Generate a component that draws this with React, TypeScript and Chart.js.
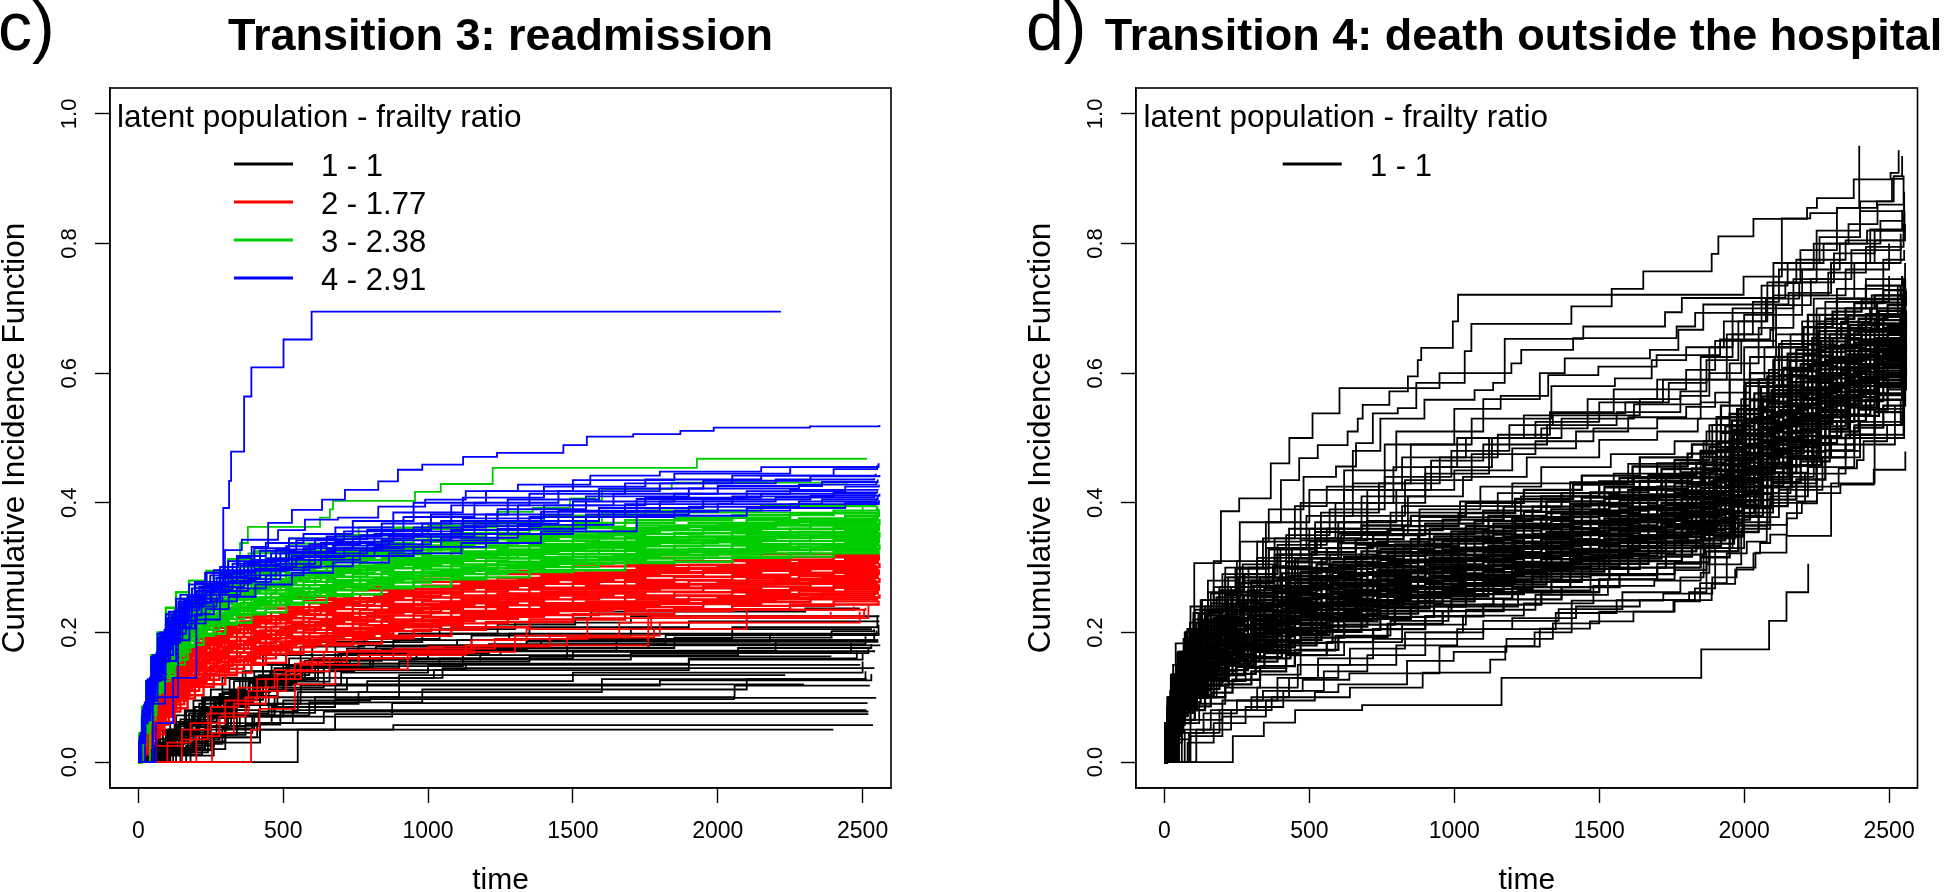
import { useEffect, useRef } from "react";
import { Chart, registerables } from "chart.js";
Chart.register(...registerables);

const FONT = '"Liberation Sans", Arial, sans-serif';
const xTickValues = [0, 500, 1000, 1500, 2000, 2500];
const yTickValues = [0, 0.2, 0.4, 0.6, 0.8, 1];
const legendHeading = "latent population - frailty ratio";
const legendC = ["1 - 1", "2 - 1.77", "3 - 2.38", "4 - 2.91"];
const legendD = ["1 - 1"];
const COLORS = { black: "#000000", red: "#ff0000", green: "#00cd00", blue: "#0000ff" };

// Event times for the tightly packed curves of panel c
const cGrids = [
[6,18,32,50,75,105,145,195,260,340,440,570,740,950,1200,1500,1850,2250,2555],
[9,22,40,62,90,125,170,225,300,390,510,650,840,1080,1350,1680,2050,2400,2550],
[4,14,27,44,66,95,130,175,235,310,400,520,680,880,1120,1400,1750,2150,2545],
[7,20,35,54,82,115,158,210,280,365,475,610,790,1010,1275,1590,1950,2320,2558],
[5,16,29,47,70,100,138,185,248,325,420,545,710,915,1160,1450,1800,2200,2540],
[8,24,37,58,86,120,164,218,290,378,490,630,815,1045,1310,1640,2000,2360,2552],
[3,13,30,52,78,110,152,202,270,352,458,590,765,980,1240,1545,1900,2280,2548],
[10,21,42,66,94,130,176,232,312,404,530,672,865,1115,1390,1720,2100,2440,2556],
];

// Cumulative incidence in thousandths, packed curves of panel c
const redBand = [
[3,12,22,38,58,78,98,116,134,150,167,180,191,204,216,228,236,243,249],
[6,17,28,43,62,83,103,120,138,153,170,183,195,208,220,233,241,248,253],
[5,20,32,46,66,86,106,124,141,156,174,186,198,211,224,236,244,251,256],
[8,19,35,50,70,89,110,127,144,160,177,189,202,214,227,239,247,254,259],
[7,24,36,52,72,93,112,130,148,162,180,192,205,218,230,242,250,257,262],
[9,23,38,55,74,95,116,134,150,166,183,195,208,221,233,245,253,260,265],
[10,26,41,58,78,99,119,136,154,169,186,199,211,224,236,248,256,263,268],
[9,28,43,60,81,102,122,140,157,172,188,201,214,227,239,251,259,266,272],
[12,27,45,64,84,105,125,143,160,175,191,204,217,230,242,254,262,269,275],
[11,30,48,66,87,108,128,146,163,178,194,207,220,233,245,257,265,272,278],
[13,31,50,69,89,111,131,149,166,181,197,210,223,236,248,260,268,275,281],
[12,33,52,72,92,114,134,152,169,184,200,213,226,239,251,263,271,278,284],
[14,35,54,75,95,117,137,154,172,187,203,216,229,242,254,266,274,281,287],
[13,36,57,77,98,120,140,157,175,190,206,219,232,245,257,269,277,284,289],
[16,38,59,80,101,122,143,160,178,193,209,221,235,248,260,272,280,287,292],
[15,40,61,83,104,125,146,163,181,196,211,224,238,251,263,275,283,290,295],
[17,41,64,86,107,128,149,166,184,199,214,227,241,254,266,278,286,292,298],
[18,43,66,88,110,131,152,169,187,202,216,230,244,257,269,281,289,295,301],
[17,45,68,91,113,134,154,172,190,205,219,233,247,260,272,284,292,298,304],
[19,47,71,94,116,137,157,175,193,208,222,236,250,263,275,287,295,301,307],
[20,48,73,97,119,140,160,178,196,211,225,239,253,266,278,290,298,304,310],
[21,50,75,100,122,143,163,181,199,214,228,242,256,269,281,293,301,307,313],
[20,52,78,103,125,146,166,184,202,217,231,245,259,272,284,296,304,310,316],
[23,53,80,106,127,149,169,187,205,220,234,248,262,275,287,299,307,313,319],
[22,55,82,109,130,152,172,190,207,223,237,250,265,278,290,302,310,316,322],
[24,54,85,112,133,155,175,192,210,225,239,252,267,280,292,304,312,318,325],
[25,56,86,115,135,158,178,195,213,228,242,255,270,283,295,307,315,321,328],
];
const greenBand = [
[20,45,70,105,130,155,178,195,212,228,243,256,268,282,293,307,315,322,328],
[22,48,73,108,133,158,181,198,215,231,246,259,271,285,296,309,317,324,331],
[21,50,75,110,135,162,184,201,218,234,249,262,274,287,299,312,320,327,334],
[24,52,78,113,138,165,187,204,221,237,252,265,277,290,301,314,322,329,336],
[23,54,80,116,141,168,190,207,224,240,254,267,280,292,304,317,325,331,338],
[26,56,83,118,144,171,193,210,227,242,257,270,282,295,306,319,327,334,341],
[25,58,86,121,147,174,196,213,230,245,260,273,285,297,309,321,329,336,343],
[28,60,89,124,150,177,199,216,233,248,262,275,288,300,311,324,332,339,346],
[27,62,91,127,153,180,202,219,235,251,265,278,290,302,314,326,334,341,348],
[30,63,94,129,156,183,205,222,238,254,268,281,293,305,316,328,336,343,351],
[29,66,97,132,159,186,208,225,241,257,271,284,296,307,319,331,339,346,353],
[32,68,100,135,162,190,211,228,244,260,273,286,299,310,321,333,341,348,355],
[31,70,103,138,165,193,214,231,247,262,276,289,301,312,323,335,343,350,358],
[34,72,106,141,168,196,217,234,250,265,279,292,304,315,326,338,346,353,360],
[33,74,108,144,171,199,220,237,253,268,282,295,307,318,328,340,348,355,362],
[36,76,111,147,174,202,223,240,256,271,285,297,310,320,331,343,351,358,365],
[35,78,113,150,177,205,226,243,259,274,288,300,312,323,333,345,353,360,367],
[38,80,116,153,180,208,229,246,262,277,291,303,315,325,336,347,355,362,370],
[37,82,118,156,183,212,232,249,265,280,294,306,318,328,338,350,358,365,372],
[40,84,121,158,186,215,235,252,268,283,297,309,321,331,341,352,360,367,375],
[39,85,123,160,189,218,238,255,271,286,300,312,324,334,344,355,363,370,378],
[42,83,125,162,191,222,242,259,274,290,303,315,327,337,347,358,366,373,381],
[41,85,122,164,193,225,245,262,277,293,306,318,330,340,350,361,369,376,384],
[44,84,125,165,195,228,248,265,280,297,310,322,334,344,354,365,373,380,388],
[43,85,124,163,197,231,252,269,284,301,314,326,338,348,358,369,377,384,391],
[45,85,125,165,198,234,256,273,288,305,318,330,343,353,363,373,381,388,395],
[45,85,125,165,200,238,262,280,295,313,325,337,350,360,370,380,388,395,400],
];
const blueBand = [
[40,85,128,165,200,232,258,278,296,318,338,352,372,400,418,435,445,455,461],
[45,92,130,168,204,233,255,275,293,312,333,348,368,396,414,430,442,452,456],
[38,80,125,162,198,228,252,274,292,310,330,345,362,385,408,425,436,442,445],
[42,88,120,158,195,225,250,270,290,308,328,344,358,382,405,422,434,441,443],
[36,78,118,155,192,222,248,268,288,306,326,342,356,378,400,418,430,436,438],
[40,84,124,160,196,226,250,268,286,304,322,338,352,372,396,414,426,432,436],
[32,72,110,148,186,218,244,264,284,303,322,336,350,368,390,410,422,428,433],
[35,75,115,152,188,220,244,262,280,298,318,334,348,364,386,406,418,425,428],
[30,66,102,142,180,212,238,258,278,296,314,330,345,362,382,402,414,420,420],
[34,70,108,146,182,214,240,258,276,295,312,327,342,358,378,398,410,416,418],
[31,62,95,132,170,205,232,254,272,292,310,324,340,356,376,396,408,414,416],
[33,68,100,136,174,208,234,252,270,288,306,322,336,352,372,392,405,411,414],
[30,60,90,128,162,196,224,246,266,284,302,316,330,348,368,388,402,408,412],
[31,64,96,130,165,198,226,248,264,282,300,318,332,346,366,386,398,405,410],
[30,61,92,126,158,190,218,240,258,278,296,312,326,342,360,382,394,402,408],
[32,65,94,127,156,188,214,236,255,274,292,308,322,338,356,380,392,400,404],
[30,60,90,125,155,185,206,228,248,268,288,302,318,332,352,378,388,398,402],
];

// Curves of panel c read one at a time: pairs of time, thousandths
const blueSingles = [
[23,90,92,184,144,245,196,276,230,292,299,327,357,343,448,369,530,389,634,405,713,420,828,433,896,451,980,459,1121,471,1238,477,1467,489,1548,502,1708,506,1871,511,1986,516,2318,518,2558,520],
[60,60,120,130,200,220,282,270,293,392,313,434,320,479,365,564,390,609,501,652,598,695,2218,695],
[50,100,137,208,184,245,253,270,282,301,344,315,391,332,448,343,482,358,575,374,689,377,828,394,990,405,1130,418,1310,428,1560,442,1800,448,2150,455,2550,458],
];
const greenSingles = [
[11,70,40,127,81,168,137,200,227,262,322,292,351,338,378,363,627,377,661,390,672,403,955,417,1044,429,1223,454,1928,468,2515,468],
[20,65,60,125,110,170,180,225,300,290,380,322,520,345,760,362,1238,386,1362,392,1490,407,1577,404,1600,421,1841,431,2450,431],
[40,110,80,150,160,200,230,267,325,294,520,320,1000,365,1600,385,2500,395],
];
const redSingles = [
[254,45,330,90,440,128,560,150,760,165,1130,180,1760,235,2510,238],
[389,50,418,82,540,120,680,143,930,168,1160,180,1480,192,1780,205,2100,222,2390,232],
[150,35,240,75,380,110,510,140,660,160,940,170,1300,195,1660,215,2100,235,2470,240],
[200,40,280,70,370,100,480,135,560,155,720,172,1150,188,1340,205,1770,225,2505,236],
[100,30,180,60,300,95,410,128,540,152,640,170,1000,178,1420,195,1800,215,2490,232],
[60,25,150,50,250,85,345,115,470,142,600,160,880,175,1230,190,1550,222,2520,242],
];
const blackSingles = [
[45,30,110,62,190,95,290,130,430,165,600,185,900,198,1240,212,1508,222,1562,232,2302,237,2490,237],
[70,25,140,60,230,98,360,140,560,178,780,190,1040,205,1300,215,1700,225,2558,225],
[90,22,170,60,280,105,430,150,680,185,980,198,1350,208,1900,217,2558,217],
[30,18,100,50,210,90,350,130,520,160,760,180,1150,195,1700,205,2532,205],
[55,28,160,65,260,100,400,140,600,170,880,188,1280,198,2558,198],
[80,20,180,55,320,110,500,150,720,175,1100,188,2547,188],
[40,15,120,48,240,85,380,125,620,160,1000,180,2561,180],
[100,30,210,70,340,110,540,145,800,165,1250,171,2543,171],
[65,20,150,45,270,80,420,115,640,145,900,155,1350,163,2392,163],
[85,18,190,50,310,88,480,120,700,138,1000,150,2492,150],
[50,16,130,42,250,75,450,112,720,130,1050,145,2541,145],
[110,22,230,55,370,90,560,118,900,134,2233,134],
[75,14,170,40,300,72,470,100,680,120,2295,121],
[95,17,200,42,340,70,500,95,800,100,2058,118,2525,118],
[60,13,140,35,280,60,460,85,679,97,2056,99,2547,99],
[120,18,250,45,393,70,876,91,2517,91],
[88,12,220,38,410,60,533,80,2513,80],
[130,15,240,38,420,60,640,78,2520,78],
[105,10,260,30,420,50,679,74,2520,74],
[150,20,300,50,880,57,2536,57],
[550,50,2399,50],
[40,20,95,45,175,75,285,105,405,132,566,152,1040,160,1480,172,2200,186,2555,186],
[35,22,85,50,160,80,250,112,370,140,510,165,820,178,1390,190,2050,208,2551,226],
[25,18,75,36,145,66,225,98,330,125,460,150,700,165,1160,176,1850,192,2393,202,2540,205],
[60,22,115,44,205,72,305,100,440,128,610,148,1120,158,1700,168,2520,176],
[20,12,65,30,125,58,195,85,295,108,415,134,590,158,960,172,1480,182,2510,194],
[15,10,55,28,105,50,165,78,265,95,385,122,500,140,745,152,1180,165,2070,176,2530,182],
[70,35,135,55,215,82,320,100,420,118,530,130,1020,142,1900,158,2500,168],
[145,30,235,55,350,72,470,90,760,108,1600,128,2510,140],
[180,28,290,52,400,72,590,92,980,112,2100,128,2510,130],
[28,25,68,48,130,72,220,100,315,128,470,145,730,158,1120,172,1650,188,2540,200],
[48,20,105,38,175,62,270,92,395,120,515,148,690,168,1210,182,1820,196,2555,212],
[12,8,50,26,110,46,185,70,280,90,360,108,455,138,640,165,1060,176,1760,186,2550,190],
[72,18,155,42,245,68,335,96,430,126,575,156,840,174,1340,186,2180,196,2548,203],
[36,12,92,34,160,58,240,78,325,102,410,122,545,146,810,160,1500,170,2460,184],
[58,15,125,36,200,54,305,80,380,102,480,124,660,142,1130,152,1900,160,2480,172],
[110,15,190,32,300,56,415,78,550,108,790,125,1500,138,2500,155],
[165,25,260,42,370,58,490,76,610,100,900,118,1800,126,2530,136],
];

// Event times for the tightly packed curves of panel d
const dGrids = [
[5,15,30,55,90,140,210,300,420,560,720,900,1100,1300,1500,1700,1850,1950,2050,2150,2250,2350,2450,2550],
[8,20,38,65,105,160,235,330,450,600,770,960,1170,1370,1570,1760,1880,1980,2080,2180,2280,2380,2480,2555],
[3,12,25,48,80,125,190,275,390,525,680,850,1040,1240,1440,1640,1820,1920,2020,2120,2220,2320,2420,2545],
[6,17,34,60,98,150,222,315,435,580,745,930,1135,1335,1535,1730,1865,1965,2065,2165,2265,2365,2465,2552],
[4,13,27,52,85,132,200,288,405,542,700,875,1070,1270,1470,1670,1835,1935,2035,2135,2235,2335,2435,2548],
[9,22,42,70,112,170,248,345,470,620,795,990,1200,1400,1600,1785,1895,1995,2095,2195,2295,2395,2495,2558],
[7,18,36,62,95,145,215,308,428,570,735,915,1118,1318,1518,1715,1858,1958,2058,2158,2258,2358,2458,2556],
[4,11,23,45,75,118,180,262,375,508,660,825,1015,1210,1410,1615,1805,1905,2005,2105,2205,2305,2405,2540],
];
const blackBandD = [
[10,25,40,60,80,100,120,140,165,185,205,225,243,262,282,300,316,355,395,425,470,505,540,575],
[12,29,45,65,86,107,127,148,173,193,213,233,251,270,290,308,325,365,405,436,481,516,550,584],
[15,32,50,71,92,113,134,155,180,201,221,240,259,278,298,317,333,374,415,446,492,526,559,592],
[14,28,52,76,99,118,136,160,184,204,224,243,262,281,300,320,337,380,424,458,500,534,566,598],
[17,36,54,76,99,120,142,162,188,209,229,248,267,286,306,325,342,384,426,457,503,536,569,601],
[16,40,58,80,103,125,147,168,192,212,233,252,270,290,310,330,348,392,432,464,510,544,575,606],
[20,40,59,82,105,127,149,170,196,217,237,256,274,294,314,334,351,394,436,468,514,547,579,610],
[18,38,62,88,110,131,154,174,199,220,240,258,276,296,316,338,356,400,444,476,522,553,585,614],
[19,37,57,84,108,130,152,173,198,219,239,259,278,298,318,338,354,397,440,472,518,550,582,612],
[22,44,64,88,111,134,156,177,203,225,245,264,282,302,322,342,360,404,446,479,525,557,589,618],
[26,44,65,92,116,140,161,183,205,230,250,270,288,308,328,350,367,412,456,490,535,566,598,625],
[26,46,66,91,115,137,160,181,207,228,248,267,286,306,326,347,365,410,453,486,532,563,595,622],
[23,42,63,90,113,136,158,179,202,222,243,262,281,301,320,340,358,402,447,480,526,558,590,620],
[24,48,68,93,118,141,163,185,211,233,253,272,290,310,330,351,369,414,456,490,536,568,598,627],
[25,47,70,95,120,143,165,187,213,235,255,274,293,313,333,354,372,417,460,494,540,571,601,630],
[21,39,61,86,110,133,155,176,200,224,246,268,284,304,324,345,362,408,450,484,530,562,594,622],
[28,51,72,97,122,145,167,189,215,237,257,275,293,313,333,354,373,419,462,497,543,574,604,631],
[29,54,75,100,126,150,172,194,220,242,262,281,300,320,340,360,377,424,470,503,550,580,610,637],
[27,52,74,99,124,147,170,192,219,241,260,279,298,318,338,359,378,424,467,501,547,578,608,636],
[31,57,79,105,130,154,177,199,225,246,267,285,304,324,344,365,383,431,475,509,556,586,615,642],
[30,55,77,103,128,152,175,197,223,245,265,283,302,322,342,363,381,428,472,507,553,584,613,640],
[35,59,83,108,134,158,180,202,228,250,270,289,307,327,347,369,387,435,480,514,561,591,620,647],
[29,58,80,106,131,155,178,200,226,248,268,287,305,325,345,367,385,433,477,511,558,589,618,644],
[33,61,84,110,137,160,184,205,231,254,274,292,311,331,351,374,392,440,485,520,567,597,625,651],
[34,60,82,109,135,159,182,204,230,252,272,291,309,329,349,372,390,438,482,518,564,594,622,649],
[34,63,87,113,140,163,186,209,235,257,278,296,315,335,356,378,396,444,490,526,571,602,630,655],
[32,62,85,112,138,162,185,207,233,255,275,294,313,333,353,376,394,442,487,522,569,599,627,653],
[36,65,89,116,143,167,190,212,239,260,281,300,319,339,359,382,400,449,495,530,577,607,634,660],
[36,64,88,114,141,165,189,211,237,259,279,298,317,337,357,380,398,447,492,528,574,604,632,657],
[40,67,92,119,147,170,194,216,242,264,284,303,322,342,363,386,404,454,500,535,582,612,639,664],
[35,66,90,118,144,168,192,214,240,262,282,301,320,340,361,384,402,451,497,532,579,609,636,662],
[38,71,97,125,152,177,201,220,249,273,291,312,325,346,367,390,408,458,504,540,587,616,643,668],
[38,68,93,121,148,172,196,218,244,266,286,305,324,344,365,388,406,456,502,538,585,614,641,666],
[39,69,94,122,150,174,197,223,246,271,291,310,329,350,370,394,412,462,509,546,592,621,648,672],
[37,70,96,124,151,176,199,221,247,269,289,308,327,348,369,392,410,460,507,543,590,619,645,670],
[41,73,100,128,156,180,205,226,253,275,295,314,332,354,374,398,416,468,515,551,598,627,652,677],
[40,72,99,127,154,179,203,225,251,273,293,312,331,352,372,396,414,465,512,549,595,624,650,675],
[45,77,105,135,163,188,212,234,259,281,302,320,340,361,382,407,425,477,525,562,609,637,662,686],
[42,74,101,130,157,182,206,228,254,276,296,315,334,355,376,400,418,470,517,553,600,629,654,679],
[44,79,108,138,166,192,215,238,263,285,305,324,344,365,386,411,429,482,530,568,614,642,666,690],
[44,76,104,133,161,186,210,232,258,280,300,319,338,359,380,405,423,474,522,559,606,634,659,684],
[47,82,112,141,170,195,219,241,267,289,309,327,347,368,390,415,433,486,535,573,620,647,670,694],
[43,78,107,136,164,190,213,235,261,283,303,322,342,363,384,409,427,479,527,564,611,639,664,688],
[49,84,115,144,173,198,222,244,270,292,312,331,351,372,394,419,438,491,540,578,625,652,675,699],
[46,81,110,139,168,193,217,239,265,287,307,326,346,367,388,413,431,484,532,570,617,644,668,692],
[48,83,113,142,171,196,220,242,268,290,310,329,349,370,392,417,435,488,537,575,622,649,673,697],
[53,90,122,153,183,209,233,255,281,303,323,342,362,384,406,432,451,505,556,595,640,666,689,712],
[47,85,116,146,175,200,224,246,272,294,314,333,353,374,396,421,440,493,543,581,627,654,677,701],
[50,87,118,149,178,204,228,250,276,298,318,337,357,378,400,425,444,498,548,586,633,659,682,706],
[52,89,121,152,182,208,232,254,280,302,322,341,361,382,404,430,449,503,553,592,638,664,687,710],
[51,91,124,155,185,211,235,257,283,305,325,344,364,386,408,434,453,508,558,597,644,669,691,714],
[54,93,126,158,188,215,239,261,287,309,329,348,368,390,412,438,458,513,564,603,649,674,696,718],
[56,95,129,161,192,219,243,265,291,313,333,352,372,394,416,443,462,518,569,608,654,679,700,723],
[55,97,131,164,195,222,246,268,294,316,336,356,376,398,420,447,467,523,574,614,660,684,705,727],
[58,98,133,167,198,226,250,272,298,320,340,360,380,402,424,452,471,527,579,619,665,689,709,731],
[57,99,134,168,201,229,254,276,302,324,344,364,384,406,428,456,476,532,585,625,671,695,714,736],
[60,100,135,170,203,232,258,280,308,330,350,368,388,410,433,461,480,537,590,630,676,700,720,740],
[60,100,135,170,205,235,262,285,314,338,358,374,394,415,438,466,486,544,595,636,684,708,728,746],
[60,100,135,170,205,235,265,290,320,345,365,380,400,420,442,470,490,550,600,640,690,715,735,750],
];
const blackSinglesD = [
[8,60,25,120,39,183,103,307,195,387,258,407,367,461,431,500,511,538,604,577,949,600,1197,615,1231,636,1410,654,1767,672,1831,693,2100,740,2250,820,2400,865,2510,900,2552,900],
[30,150,90,240,170,310,260,370,402,435,465,469,529,489,632,510,667,530,684,551,776,572,840,595,874,620,886,639,995,680,1013,721,1998,749,2130,839,2228,847,2320,855,2397,951],
[20,110,70,200,150,280,260,340,360,390,480,440,592,456,661,492,719,538,805,546,869,585,1036,634,1059,676,1404,703,1543,730,1652,757,1888,784,1911,811,2032,838,2217,855,2251,870,2378,899,2505,909,2533,944],
[25,100,80,180,160,260,250,310,350,370,500,420,650,480,745,530,897,559,1070,574,1134,585,1174,653,1445,672,1727,694,1785,716,2142,739,2194,790,2320,855,2458,865,2516,904,2545,935],
[30,130,100,230,200,290,320,340,470,400,620,450,800,510,1100,560,1295,600,1381,623,1531,623,1675,636,1773,667,1859,706,2153,724,2300,770,2435,822,2545,852],
[15,90,60,170,130,250,210,300,340,345,450,395,560,425,760,490,1000,545,1160,565,1324,597,1497,610,1698,628,1917,652,2090,667,2101,770,2274,800,2424,820,2552,845],
[35,120,110,215,230,270,360,330,490,380,650,430,850,490,1060,530,1335,580,1554,592,1681,620,1800,640,1930,680,2080,740,2180,775,2350,805,2550,830],
[20,85,75,160,160,220,290,300,420,350,570,390,760,440,990,480,1190,520,1340,538,1590,555,1720,590,1850,625,1960,660,2060,700,2170,745,2300,770,2450,805,2555,830],
[40,110,120,190,250,270,400,320,520,355,700,400,900,445,1120,500,1300,515,1460,535,1640,560,1780,572,1870,590,2000,640,2100,690,2200,720,2350,760,2500,800],
[12,70,50,140,140,205,300,280,440,330,600,370,800,420,1000,450,1200,484,1420,510,1600,532,1800,548,1900,570,2020,625,2110,660,2240,715,2380,770,2540,800],
[45,100,150,180,300,255,460,315,610,350,840,410,1030,440,1250,470,1500,497,1700,510,1840,530,1950,590,2070,640,2200,680,2320,730,2480,775,2552,790],
[60,100,180,175,330,260,500,300,660,335,880,390,1090,425,1300,455,1540,475,1760,495,1880,520,2000,590,2120,645,2250,700,2420,745,2555,770],
[40,120,120,210,260,300,430,360,620,420,820,470,1040,500,1240,535,1460,560,1700,590,1880,640,1960,700,2060,735,2150,770,2260,810,2400,850,2552,880],
[18,95,60,155,140,240,320,310,500,360,680,410,900,455,1130,500,1370,530,1620,552,1850,590,1940,660,2030,710,2120,760,2240,800,2360,830,2460,860,2550,905],
[28,105,90,195,190,270,350,330,540,385,740,430,950,470,1150,505,1330,540,1550,575,1800,605,1900,650,2000,690,2100,720,2200,760,2330,800,2470,835,2552,860],
[35,130,100,220,220,285,380,345,590,400,790,455,1010,500,1280,525,1500,555,1740,585,1870,620,1980,680,2075,715,2190,740,2310,785,2450,820,2553,850],
[22,80,70,145,150,215,270,280,400,330,520,370,700,420,920,465,1100,490,1320,520,1560,540,1780,565,1880,600,1990,650,2110,705,2230,745,2370,790,2540,815],
[50,115,130,180,240,240,380,300,500,340,620,380,830,435,1060,475,1280,495,1480,515,1700,530,1850,555,1950,615,2050,670,2170,720,2290,755,2420,795,2550,815],
[16,100,52,165,105,235,170,270,270,305,390,335,560,360,820,395,1200,430,1600,460,1870,510,2000,580,2130,650,2280,710,2500,750],
[10,85,42,150,88,215,150,262,245,298,360,328,520,355,780,385,1150,415,1550,445,1860,495,1990,560,2100,620,2260,690,2530,735],
[24,120,66,190,125,250,210,285,320,315,470,342,700,372,1020,402,1400,432,1780,462,1890,520,2020,590,2160,660,2320,715,2550,745],
[14,75,45,130,95,195,160,245,255,285,380,320,600,352,880,378,1230,410,1620,440,1850,478,1975,545,2085,605,2240,670,2440,720,2550,735],
[236,40,343,61,451,80,682,88,1163,130,1852,174,2086,218,2146,262,2221,306],
[90,40,200,70,350,95,519,108,600,120,837,156,998,170,1180,190,1340,214,1500,232,1760,250,1888,275,1969,297,2032,322,2055,338,2090,351,2147,376,2182,402,2251,425,2326,453,2389,466,2412,495,2493,520,2545,538],
[110,50,230,80,370,100,640,115,891,138,1124,158,1176,179,1277,200,1405,249,1721,260,1890,285,1974,300,2039,323,2146,349,2300,430,2450,500,2552,545],
[30,35,90,65,200,95,340,110,477,127,638,137,949,178,1295,206,1468,217,1618,232,1756,248,1848,276,1940,322,2009,340,2078,366,2147,384,2199,399,2251,415,2332,428,2447,451,2556,479],
[70,50,160,80,300,100,430,130,600,150,800,180,1010,205,1200,222,1420,240,1640,250,1830,268,1900,330,2000,378,2120,420,2270,470,2400,520,2552,560],
[50,45,135,75,250,95,390,130,530,160,720,190,900,200,1100,218,1360,236,1580,262,1780,285,1860,330,1960,380,2040,415,2160,470,2300,500,2450,545,2550,570],
[85,45,190,80,320,115,460,150,640,175,830,200,1030,226,1240,245,1480,272,1690,280,1850,292,1880,350,2000,395,2100,440,2240,490,2380,520,2540,560],
[80,30,170,60,280,85,410,110,550,140,700,165,900,190,1100,205,1350,230,1560,250,1810,262,1870,305,1990,360,2090,400,2210,445,2350,490,2520,550],
[18,30,60,60,120,90,210,115,330,135,470,165,620,185,820,212,1040,235,1280,258,1530,282,1760,296,1870,325,1980,370,2090,410,2220,455,2380,505,2550,575],
[12,40,40,72,80,100,160,125,280,145,420,172,590,195,780,218,980,240,1220,265,1470,288,1700,306,1850,345,1970,385,2100,430,2250,480,2400,525,2550,585],
];

const toPoints = (values: number[], times: number[]) => [{ x: 0, y: 0 }, ...values.map((v, i) => ({ x: times[i], y: v / 1000 }))];
const pairPoints = (pairs: number[]) => {
  const pts = [{ x: 0, y: 0 }];
  for (let i = 0; i < pairs.length; i += 2) pts.push({ x: pairs[i], y: pairs[i + 1] / 1000 });
  return pts;
};
const line = (data: { x: number; y: number }[], color: string, width: number) => ({
  data, borderColor: color, borderWidth: width, pointRadius: 0, stepped: true, fill: false,
  borderJoinStyle: "miter", borderCapStyle: "butt",
});
const bandSets = (rows: number[][], grids: number[][], color: string, width: number) => rows.map((r, i) => line(toPoints(r, grids[i % grids.length]), color, width));
const singleSets = (rows: number[][], color: string) => rows.map((r) => line(pairPoints(r), color, 1.8));

// Chart.js paints the first dataset last
const panelC = [
  ...singleSets(blueSingles, COLORS.blue), ...bandSets(blueBand, cGrids, COLORS.blue, 1.9),
  ...singleSets(greenSingles, COLORS.green), ...bandSets(greenBand, cGrids, COLORS.green, 2.4),
  ...singleSets(redSingles, COLORS.red), ...bandSets(redBand, cGrids, COLORS.red, 2.4),
  ...singleSets(blackSingles, COLORS.black),
];
const panelD = [...singleSets(blackSinglesD, COLORS.black), ...bandSets(blackBandD, dGrids, COLORS.black, 2.3)];

function decoration(tag: string, names: string[], palette: string[], tagX: number, headX: number, lineX: number, textX: number) {
  return {
    id: "decoration",
    afterDatasetsDraw(chart: any) {
      const { ctx, chartArea: a } = chart;
      ctx.save();
      ctx.strokeStyle = "#000";
      ctx.lineWidth = 1.6;
      ctx.strokeRect(a.left, a.top, a.right - a.left, a.bottom - a.top);
      ctx.fillStyle = "#000";
      ctx.textBaseline = "alphabetic";
      ctx.textAlign = "left";
      ctx.font = `68px ${FONT}`;
      ctx.fillText(tag, tagX, 50);
      ctx.font = `31.5px ${FONT}`;
      ctx.fillText(legendHeading, headX, 127);
      const rowLine = [164, 202, 240, 278];
      const rowText = [176, 214, 252, 290];
      names.forEach((n, i) => {
        ctx.strokeStyle = palette[i];
        ctx.lineWidth = 2.8;
        ctx.beginPath();
        ctx.moveTo(lineX, rowLine[i]);
        ctx.lineTo(lineX + 59, rowLine[i]);
        ctx.stroke();
        ctx.fillStyle = "#000";
        ctx.font = `31px ${FONT}`;
        ctx.fillText(n, textX, rowText[i]);
      });
      ctx.restore();
    },
  };
}

function buildOptions(title: string, rightGap: number) {
  const axisCommon = {
    type: "linear",
    grid: { drawOnChartArea: false, drawTicks: true, tickLength: 15, tickWidth: 1.4, tickColor: "#000" },
    border: { display: true, color: "#000", width: 1.4 },
  };
  return {
    responsive: false, animation: false, parsing: false, normalized: true,
    events: [],
    plugins: {
      legend: { display: false },
      tooltip: { enabled: false },
      title: { display: true, text: title, color: "#000", font: { family: FONT, size: 45, weight: "bold", lineHeight: 1.2 }, padding: { top: 11, bottom: 23 } },
    },
    scales: {
      x: {
        ...axisCommon, min: -98, max: 2598,
        afterBuildTicks: (s: any) => { s.ticks = xTickValues.map((value) => ({ value })); },
        afterFit: (s: any) => { s.height = 104; },
        ticks: { autoSkip: false, maxRotation: 0, color: "#000", font: { family: FONT, size: 23 }, padding: 15, callback: (v: number) => String(v) },
        title: { display: true, text: "time", color: "#000", font: { family: FONT, size: 30, lineHeight: 0.73 }, padding: { top: 0, bottom: 0 } },
      },
      y: {
        ...axisCommon, min: -0.04, max: 1.04,
        afterBuildTicks: (s: any) => { s.ticks = yTickValues.map((value) => ({ value })); },
        afterFit: (s: any) => { s.width = 110; },
        ticks: { autoSkip: false, minRotation: 90, maxRotation: 90, crossAlign: "center", color: "#000", font: { family: FONT, size: 22 }, padding: 10, callback: (v: number) => v.toFixed(1) },
        title: { display: true, text: "Cumulative Incidence Function", color: "#000", font: { family: FONT, size: 31.5, lineHeight: 1 }, padding: { top: 0, bottom: 0 } },
      },
      // Empty axis that only keeps the margin right of the plot, so the title stays centred over the plot
      gap: {
        type: "linear", position: "right", display: true,
        grid: { display: false }, border: { display: false }, ticks: { display: false },
        afterFit: (s: any) => { s.width = rightGap; },
      },
    },
  };
}

export default function App() {
  const leftRef = useRef<HTMLCanvasElement>(null);
  const rightRef = useRef<HTMLCanvasElement>(null);
  useEffect(() => {
    const c1 = new Chart(leftRef.current as any, {
      type: "line",
      data: { datasets: panelC as any },
      options: buildOptions("Transition 3: readmission", 110) as any,
      plugins: [decoration("c)", legendC, [COLORS.black, COLORS.red, COLORS.green, COLORS.blue], -2, 117, 234, 321)],
    });
    const c2 = new Chart(rightRef.current as any, {
      type: "line",
      data: { datasets: panelD as any },
      options: buildOptions("Transition 4: death outside the hospital", 103.5) as any,
      plugins: [decoration("d)", legendD, [COLORS.black], 0, 117.6, 256.7, 344)],
    });
    return () => { c1.destroy(); c2.destroy(); };
  }, []);
  return (
    <div style={{ position: "fixed", left: 0, top: 0, width: 1946, height: 892, overflow: "hidden", background: "#fff" }}>
      <canvas ref={leftRef} width={1001} height={892} style={{ position: "absolute", left: 0, top: 0 }} />
      <canvas ref={rightRef} width={995} height={892} style={{ position: "absolute", left: 1026, top: 0 }} />
    </div>
  );
}
